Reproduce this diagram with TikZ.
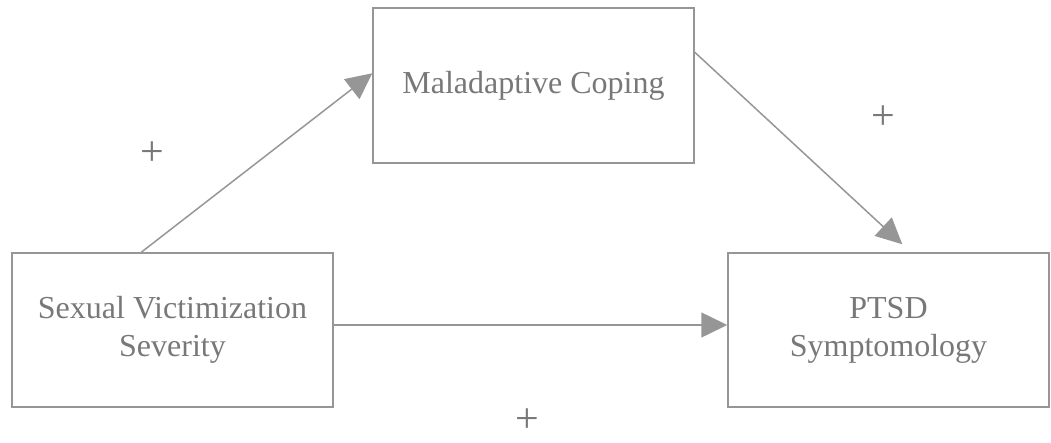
\documentclass[tikz,border=0pt]{standalone}
\usepackage{fontspec}
\setmainfont{Liberation Serif}
\usetikzlibrary{arrows.meta,calc}
\definecolor{linegray}{RGB}{150,150,150}
\definecolor{textgray}{RGB}{120,120,120}
\tikzset{
  varbox/.style={draw=linegray, line width=1.5pt, minimum width=321pt, minimum height=154pt,
    inner sep=0pt, align=center, text=textgray, font=\fontsize{32}{38}\selectfont},
  conn/.style={draw=linegray, line width=1.5pt, -{Triangle[length=26pt,width=25pt]}},
  signlbl/.style={text=textgray, font=\fontsize{42}{44}\selectfont, inner sep=0pt}
}
\begin{document}
\begin{tikzpicture}[x=1pt,y=-1pt]
\useasboundingbox (0,0) rectangle (1051,442);
\node[varbox, minimum height=155pt] (mc) at (533.5,85.5) {Maladaptive Coping};
\node[varbox] (sv) at (172.5,330) {Sexual Victimization\\Severity};
\node[varbox] (pt) at (888.5,330) {PTSD\\Symptomology};
\draw[conn] ($(sv.north west)+(130,0)$) -- ($(mc.north west)+(0,66)$);
\draw[conn] ($(mc.north east)+(0,45)$) -- ($(pt.north west)+(175,-8)$);
\draw[conn] ($(sv.east)+(0,-5)$) -- ($(pt.west)+(0,-5)$);
\node[signlbl] (p1) at (152,154) {+};
\node[signlbl] (p2) at (883,118) {+};
\node[signlbl] (p3) at (527,421) {+};
\end{tikzpicture}
\end{document}
